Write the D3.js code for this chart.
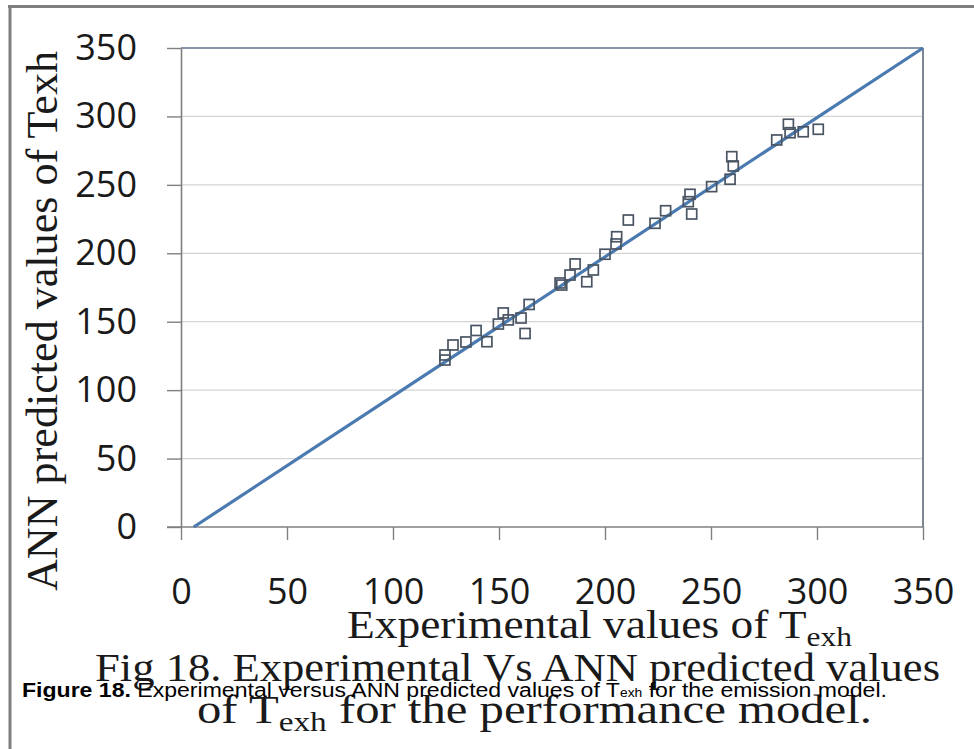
<!DOCTYPE html>
<html>
<head>
<meta charset="utf-8">
<script src="https://cdn.jsdelivr.net/npm/d3@7"></script>
<style>
  html, body { margin: 0; padding: 0; background: #fff; }
  svg { display: block; }
</style>
</head>
<body>
<div class="chart"></div>
<script>
// experimental vs predicted exhaust temperature
const expX = [124.5, 124.5, 128.3, 134.4, 139.2, 144.3, 149.7, 152.0, 154.4, 160.4, 164.2, 162.3,
  178.8, 179.6, 183.5, 185.9, 191.4, 194.5, 200.0, 205.2, 205.5, 211.0, 223.6, 228.6, 239.3,
  240.1, 240.9, 250.3, 259.0, 260.5, 259.8, 281.0, 286.5, 287.3, 293.5, 300.6];
const annY = [125.7, 122.0, 133.0, 135.2, 143.6, 135.4, 148.3, 156.4, 151.3, 152.7, 162.6, 141.4,
  178.3, 176.8, 184.1, 192.2, 179.2, 187.8, 199.3, 206.8, 212.1, 224.3, 221.9, 231.1, 237.7,
  243.1, 228.7, 248.7, 254.1, 263.8, 270.6, 282.8, 294.3, 288.1, 288.8, 290.6];
const refLineX = [6, 350];
const refLineY = [0, 350];
const tickValues = [0, 50, 100, 150, 200, 250, 300, 350];

const chartWidth = 974, chartHeight = 749;
const plot = { left: 181, right: 923, top: 48, bottom: 527 };

const canvas = d3.select('div.chart').append('svg')
    .attr('width', chartWidth).attr('height', chartHeight);

// outer frame: only the top and left edges show
canvas.append('line').attr('x1', 8).attr('x2', chartWidth).attr('y1', 6.5).attr('y2', 6.5)
    .attr('stroke', '#7f7f7f').attr('stroke-width', 3);
canvas.append('line').attr('x1', 10).attr('x2', 10).attr('y1', 5).attr('y2', chartHeight)
    .attr('stroke', '#7f7f7f').attr('stroke-width', 3);

const x = d3.scaleLinear().domain([0, 350]).range([plot.left, plot.right]);
const y = d3.scaleLinear().domain([0, 350]).range([plot.bottom, plot.top]);

// horizontal grid
canvas.append('g').classed('y-grid', true)
    .selectAll('line')
    .data(tickValues.filter(v => v > 0 && v < 350))
    .enter()
    .append('line')
    .attr('x1', plot.left).attr('x2', plot.right)
    .attr('y1', d => y(d)).attr('y2', d => y(d))
    .attr('stroke', '#d4d4d4').attr('stroke-width', 1.3);

// top and right edges of the plot area
canvas.append('line').attr('x1', plot.left).attr('x2', plot.right)
    .attr('y1', y(350)).attr('y2', y(350))
    .attr('stroke', '#8496a8').attr('stroke-width', 2);
canvas.append('line').attr('x1', plot.right).attr('x2', plot.right)
    .attr('y1', y(350)).attr('y2', y(0))
    .attr('stroke', '#7d8893').attr('stroke-width', 2);

const tickFont = "'Open Sans', sans-serif";

const yAxis = d3.axisLeft(y).tickValues(tickValues).tickSizeInner(14).tickSizeOuter(0).tickPadding(30);
const gy = canvas.append('g').classed('y-axis', true)
    .attr('transform', `translate(${plot.left}, 0)`)
    .call(yAxis);
gy.select('.domain').attr('stroke', '#808080').attr('stroke-width', 1.6);
gy.selectAll('.tick line').attr('stroke', '#808080').attr('stroke-width', 1.4);
gy.selectAll('.tick text')
    .attr('fill', '#1a1a1a')
    .style('font-family', tickFont).style('font-size', '36px');

const xAxis = d3.axisBottom(x).tickValues(tickValues).tickSizeInner(13).tickSizeOuter(0).tickPadding(38);
const gx = canvas.append('g').classed('x-axis', true)
    .attr('transform', `translate(0, ${plot.bottom})`)
    .call(xAxis);
gx.select('.domain').attr('stroke', '#808080').attr('stroke-width', 1.6)
    .attr('d', `M${plot.left - 14},0H${plot.right}`);
gx.selectAll('.tick line').attr('stroke', '#808080').attr('stroke-width', 1.4);
gx.selectAll('.tick text')
    .attr('fill', '#1a1a1a')
    .style('font-family', tickFont).style('font-size', '36px');

// reference line
canvas.append('path')
    .datum(d3.zip(refLineX, refLineY))
    .attr('fill', 'none')
    .attr('stroke', '#4a7ab0')
    .attr('stroke-width', 3.2)
    .attr('d', d3.line().x(d => x(d[0])).y(d => y(d[1])));

// square markers
const sq = 10;
canvas.append('g').classed('points', true)
    .selectAll('rect')
    .data(d3.zip(expX, annY))
    .enter()
    .append('rect')
    .attr('x', d => x(d[0]) - sq / 2)
    .attr('y', d => y(d[1]) - sq / 2)
    .attr('width', sq).attr('height', sq)
    .attr('fill', 'none')
    .attr('stroke', '#4a5563')
    .attr('stroke-width', 1.7);

const serif = "'Liberation Serif', 'Times New Roman', serif";

// axis titles
canvas.append('text')
    .attr('transform', 'translate(57, 321) rotate(-90)')
    .attr('text-anchor', 'middle')
    .attr('textLength', 540).attr('lengthAdjust', 'spacingAndGlyphs')
    .style('font-family', serif).style('font-size', '44px').attr('fill', '#1a1a1a')
    .text('ANN predicted values of Texh');

const xTitle = canvas.append('text')
    .attr('x', 347).attr('y', 638)
    .attr('textLength', 505).attr('lengthAdjust', 'spacingAndGlyphs')
    .style('font-family', serif).style('font-size', '39px').attr('fill', '#1a1a1a');
xTitle.append('tspan').text('Experimental values of T');
xTitle.append('tspan').attr('dy', 8).style('font-size', '27px').text('exh');

// captions
canvas.append('text')
    .attr('x', 95).attr('y', 681)
    .attr('textLength', 845).attr('lengthAdjust', 'spacingAndGlyphs')
    .style('font-family', serif).style('font-size', '41px').attr('fill', '#1a1a1a')
    .text('Fig 18. Experimental Vs ANN predicted values');

const cap2 = canvas.append('text')
    .attr('x', 197).attr('y', 723)
    .attr('textLength', 675).attr('lengthAdjust', 'spacingAndGlyphs')
    .style('font-family', serif).style('font-size', '41px').attr('fill', '#1a1a1a');
cap2.append('tspan').text('of T');
cap2.append('tspan').attr('dy', 8).style('font-size', '28px').text('exh');
cap2.append('tspan').attr('dy', -8).text(' for the performance model.');

const cap3 = canvas.append('text')
    .attr('x', 22).attr('y', 697)
    .attr('textLength', 865).attr('lengthAdjust', 'spacingAndGlyphs')
    .style('font-family', "'Liberation Sans', Arial, sans-serif").style('font-size', '20px').attr('fill', '#000');
cap3.append('tspan').style('font-weight', 'bold').text('Figure 18.');
cap3.append('tspan').text(' Experimental versus ANN predicted values of T');
cap3.append('tspan').style('font-size', '12px').text('exh');
cap3.append('tspan').text(' for the emission model.');
</script>
</body>
</html>
